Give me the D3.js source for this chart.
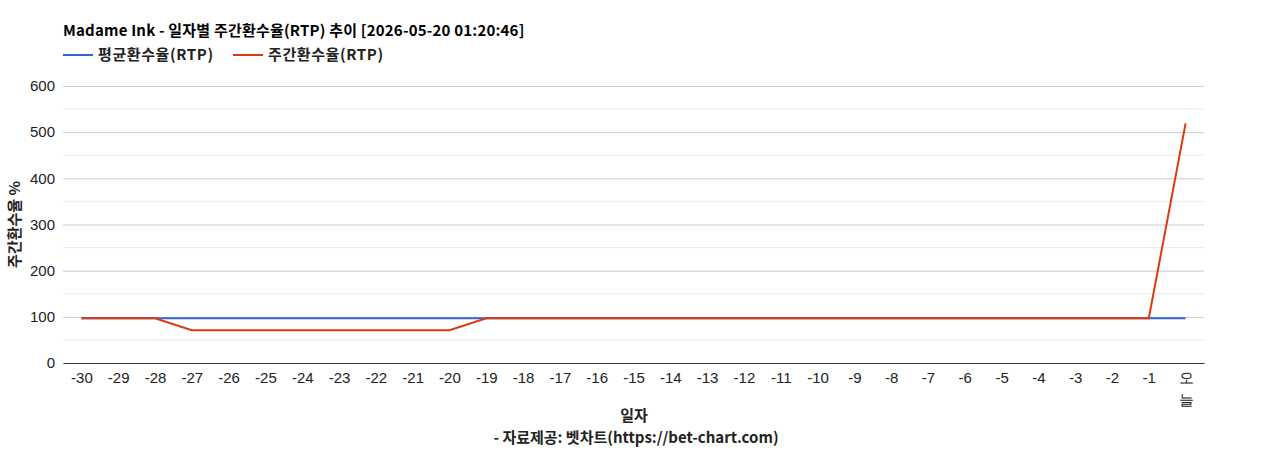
<!DOCTYPE html>
<html>
<head>
<meta charset="utf-8">
<script src="https://cdn.jsdelivr.net/npm/d3@7"></script>
<style>
  body { margin: 0; background: #fff; }
  #chart { width: 1268px; height: 450px; }
</style>
</head>
<body>
<div id="chart"></div>
<script>
// ===== RTP trend chart =====

const days = ['-30', '-29', '-28', '-27', '-26', '-25', '-24', '-23', '-22', '-21',
  '-20', '-19', '-18', '-17', '-16', '-15', '-14', '-13', '-12', '-11',
  '-10', '-9', '-8', '-7', '-6', '-5', '-4', '-3', '-2', '-1', '오늘'];

const avgRtp = [97, 97, 97, 97, 97, 97, 97, 97, 97, 97,
  97, 97, 97, 97, 97, 97, 97, 97, 97, 97,
  97, 97, 97, 97, 97, 97, 97, 97, 97, 97, 97];

const weekRtp = [97, 97, 97, 71, 71, 71, 71, 71, 71, 71,
  71, 97, 97, 97, 97, 97, 97, 97, 97, 97,
  97, 97, 97, 97, 97, 97, 97, 97, 97, 97, 519];

const yTicks = [0, 100, 200, 300, 400, 500, 600];
const yMinorTicks = [50, 150, 250, 350, 450, 550];

const series = [
  { name: '평균환수율(RTP)', values: avgRtp, color: '#3366cc' },
  { name: '주간환수율(RTP)', values: weekRtp, color: '#dc3912' }
];

const W = 1268, H = 450;
const margin = { top: 86, right: 64, bottom: 87, left: 63 };
const width = W - margin.left - margin.right;
const height = H - margin.top - margin.bottom;
const koFont = "'Noto Sans CJK KR', 'Noto Sans', sans-serif";
const tickFont = "'Liberation Sans', Arial, sans-serif";

const svg = d3.select('#chart').append('svg')
  .attr('width', W)
  .attr('height', H);

const g = svg.append('g')
  .attr('transform', `translate(${margin.left},${margin.top})`);

const x = d3.scalePoint()
  .domain(days)
  .range([0, width])
  .padding(0.5);

const y = d3.scaleLinear()
  .domain([0, 600])
  .range([height, 0]);

// minor grid
g.append('g').selectAll('line')
  .data(yMinorTicks)
  .join('line')
  .attr('x1', 0).attr('x2', width)
  .attr('y1', d => y(d)).attr('y2', d => y(d))
  .attr('stroke', '#ebebeb');

// major grid + y labels
const yAxis = d3.axisLeft(y)
  .tickValues(yTicks)
  .tickSize(-width)
  .tickPadding(8);

const yg = g.append('g').call(yAxis);
yg.select('.domain').remove();
yg.selectAll('.tick line').attr('stroke', '#cccccc');
yg.selectAll('.tick text')
  .attr('font-family', tickFont)
  .attr('font-size', 15)
  .attr('fill', '#222');

// x axis
const xAxis = d3.axisBottom(x).tickSize(0).tickPadding(9);
const xg = g.append('g')
  .attr('transform', `translate(0,${height})`)
  .call(xAxis);
xg.select('.domain').attr('stroke', '#333');
xg.selectAll('.tick text')
  .attr('font-family', tickFont)
  .attr('font-size', 15)
  .attr('fill', '#222')
  .each(function(d) {
    if (d.length > 1 && !d.startsWith('-')) {
      // wrap "오늘" into two lines like the original
      const t = d3.select(this);
      t.text(null);
      d.split('').forEach((ch, i) => {
        t.append('tspan')
          .attr('x', 0)
          .attr('dy', i === 0 ? '0.71em' : '1.5em')
          .text(ch);
      });
    }
  });

// lines
const line = d3.line()
  .x((d, i) => x(days[i]))
  .y(d => y(d));

series.forEach(s => {
  g.append('path')
    .datum(s.values)
    .attr('fill', 'none')
    .attr('stroke', s.color)
    .attr('stroke-width', 2)
    .attr('d', line);
});

// title
svg.append('text')
  .attr('x', 63)
  .attr('y', 36)
  .attr('font-family', koFont)
  .attr('font-size', 15)
  .attr('font-weight', 'bold')
  .attr('letter-spacing', 0.2)
  .attr('fill', '#000')
  .text('Madame Ink - 일자별 주간환수율(RTP) 추이 [2026-05-20 01:20:46]');

// legend
const legendX = [63, 233];
series.forEach((s, i) => {
  const lg = svg.append('g')
    .attr('transform', `translate(${legendX[i]},55)`);
  lg.append('line')
    .attr('x1', 0).attr('x2', 30)
    .attr('stroke', s.color)
    .attr('stroke-width', 2);
  lg.append('text')
    .attr('x', 35)
    .attr('y', 5)
    .attr('font-family', koFont)
    .attr('font-size', 15)
    .attr('font-weight', 'bold')
    .attr('letter-spacing', 0.6)
    .attr('fill', '#222')
    .text(s.name);
});

// y axis title
svg.append('text')
  .attr('transform', `translate(20,${margin.top + height / 2}) rotate(-90)`)
  .attr('text-anchor', 'middle')
  .attr('font-family', koFont)
  .attr('font-size', 15)
  .attr('font-weight', 'bold')
  .attr('fill', '#222')
  .text('주간환수율 %');

// x axis title + source
svg.append('text')
  .attr('x', 634)
  .attr('y', 421)
  .attr('text-anchor', 'middle')
  .attr('font-family', koFont)
  .attr('font-size', 15)
  .attr('font-weight', 'bold')
  .attr('fill', '#222')
  .text('일자');

svg.append('text')
  .attr('x', 636)
  .attr('y', 443)
  .attr('text-anchor', 'middle')
  .attr('font-family', koFont)
  .attr('font-size', 15)
  .attr('font-weight', 'bold')
  .attr('fill', '#222')
  .text('- 자료제공: 벳차트(https://bet-chart.com)');
</script>
</body>
</html>
